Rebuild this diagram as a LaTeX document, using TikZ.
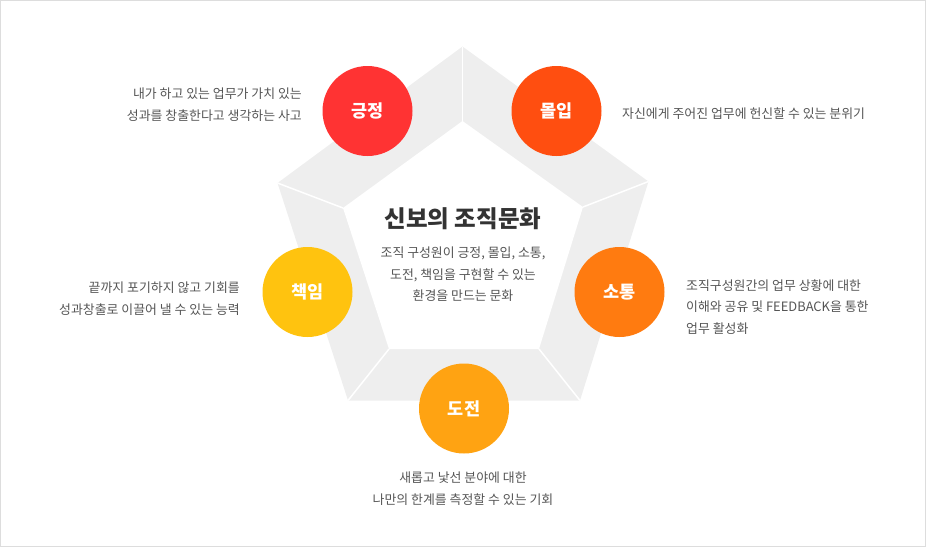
\documentclass[tikz,border=0pt]{standalone}
\usepackage{fontspec}
\setmainfont{Noto Sans CJK KR}
\definecolor{ring}{HTML}{EEEEEE}
\definecolor{frame}{HTML}{DDDDDD}
\definecolor{txtgray}{HTML}{555555}
\definecolor{titlegray}{HTML}{333333}
\definecolor{cPos}{HTML}{FF3333}
\definecolor{cImm}{HTML}{FF4E10}
\definecolor{cCom}{HTML}{FF7B10}
\definecolor{cCha}{HTML}{FFA312}
\definecolor{cRes}{HTML}{FFC30F}
\begin{document}
\begin{tikzpicture}[x=1pt,y=-1pt,
  desc/.style={font=\fontsize{12.9}{21.5}\selectfont, text=txtgray, inner sep=0pt},
  dot/.style={circle, minimum size=90pt, inner sep=0pt, text=white, font=\fontsize{17.5}{20}\selectfont\bfseries},
  sep/.style={white, line width=1.5pt}]
\useasboundingbox (0,0) rectangle (926,547);
\draw[frame, line width=1pt] (0.5,0.5) rectangle (925.5,546.5);
% outer and inner pentagon vertices
\coordinate (o1) at (462.5,46.5);
\coordinate (o2) at (648.5,181.5);
\coordinate (o3) at (580,400.5);
\coordinate (o4) at (348,400.5);
\coordinate (o5) at (277.5,183);
\coordinate (i1) at (462.5,121);
\coordinate (i2) at (583,207);
\coordinate (i3) at (539,349);
\coordinate (i4) at (389,349);
\coordinate (i5) at (343,208);
\fill[ring] (o1) -- (o2) -- (o3) -- (o4) -- (o5) -- cycle;
\fill[white] (i1) -- (i2) -- (i3) -- (i4) -- (i5) -- cycle;
\draw[sep] (o1) -- (i1);
\draw[sep] (o2) -- (i2);
\draw[sep] (o3) -- (i3);
\draw[sep] (o4) -- (i4);
\draw[sep] (o5) -- (i5);
% circles
\node[dot, fill=cPos] (pos) at (367.5,111) {긍정};
\node[dot, fill=cImm] (imm) at (556.5,111) {몰입};
\node[dot, fill=cRes] (res) at (307.5,292) {책임};
\node[dot, fill=cCom] (com) at (619.5,292) {소통};
\node[dot, fill=cCha] (cha) at (464,408.5) {도전};
% center
\node[text=titlegray, font=\fontsize{23.5}{26}\selectfont\bfseries, inner sep=0pt] (title) at (463,219) {신보의 조직문화};
\node[desc, align=center] (body) at (463,274.5) {조직 구성원이 긍정, 몰입, 소통,\\도전, 책임을 구현할 수 있는\\환경을 만드는 문화};
% descriptions
\node[desc, align=right, anchor=east] (dpos) at (302,104.5) {내가 하고 있는 업무가 가치 있는\\성과를 창출한다고 생각하는 사고};
\node[desc, align=left, anchor=west] (dimm) at (622,113.5) {자신에게 주어진 업무에 헌신할 수 있는 분위기};
\node[desc, align=right, anchor=east] (dres) at (240,298.5) {끝까지 포기하지 않고 기회를\\성과창출로 이끌어 낼 수 있는 능력};
\node[desc, align=left, anchor=west] (dcom) at (686,307) {조직구성원간의 업무 상황에 대한\\이해와 공유 및 FEEDBACK을 통한\\업무 활성화};
\node[desc, align=center] (dcha) at (463,488.5) {새롭고 낯선 분야에 대한\\나만의 한계를 측정할 수 있는 기회};
\end{tikzpicture}
\end{document}
